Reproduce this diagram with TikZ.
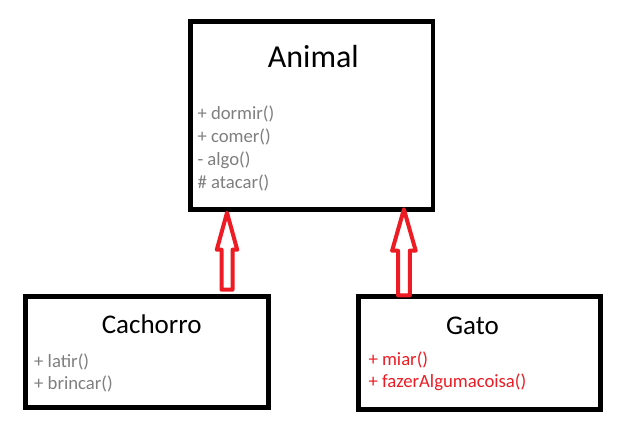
\documentclass[tikz,border=0pt]{standalone}
\usepackage{fontspec}
\setmainfont{Carlito}
\definecolor{pred}{RGB}{237,28,36}
\definecolor{pgray}{RGB}{127,127,127}
\tikzset{
  classbox/.style={draw=black,line width=4.7pt,fill=white},
  title/.style={inner sep=0pt,anchor=base,text=black},
  method/.style={inner sep=0pt,anchor=base west,text=pgray,font=\fontsize{18.7}{22}\selectfont},
  redmethod/.style={method,text=pred},
  fatarrow/.style={draw=pred,line width=4pt,line join=round,fill=white}
}
\begin{document}
\begin{tikzpicture}[x=1pt,y=-1pt]
\path[fill=white,use as bounding box] (0,0) rectangle (626,422);
% boxes
\draw[classbox] (190.5,21.5) rectangle (433,209.8);
\draw[classbox] (25.7,296.2) rectangle (268.3,407.7);
\draw[classbox] (358.3,296.7) rectangle (600.2,409.2);
% Animal
\node[title,font=\fontsize{32}{36}\selectfont] (animal) at (313.3,67.3) {Animal};
\node[method] (a1) at (197.3,120) {+ dormir()};
\node[method] (a2) at (197.3,142.7) {+ comer()};
\node[method] (a3) at (197.3,165.3) {- algo()};
\node[method] (a4) at (197.3,188.3) {\# atacar()};
% Cachorro
\node[title,font=\fontsize{27}{32}\selectfont] (cachorro) at (151.7,333.3) {Cachorro};
\node[method] (c1) at (34,367.3) {+ latir()};
\node[method] (c2) at (34,389.3) {+ brincar()};
% Gato
\node[title,font=\fontsize{27}{32}\selectfont] (gato) at (472.5,334) {Gato};
\node[redmethod] (g1) at (368.3,365) {+ miar()};
\node[redmethod] (g2) at (368.3,387.3) {+ fazerAlgumacoisa()};
% inheritance arrows
\coordinate (t1) at (227,212.7);
\coordinate (t2) at (403.9,209.3);
\draw[fatarrow] (t1) -- ++(10.2,37) -- ++(-4.7,0) -- ++(0,40) -- ++(-11,0) -- ++(0,-40) -- ++(-4.7,0) -- cycle;
\draw[fatarrow] (t2) -- ++(11.8,41.4) -- ++(-5.9,0) -- ++(0,44.6) -- ++(-11.8,0) -- ++(0,-44.6) -- ++(-5.9,0) -- cycle;
\end{tikzpicture}
\end{document}
